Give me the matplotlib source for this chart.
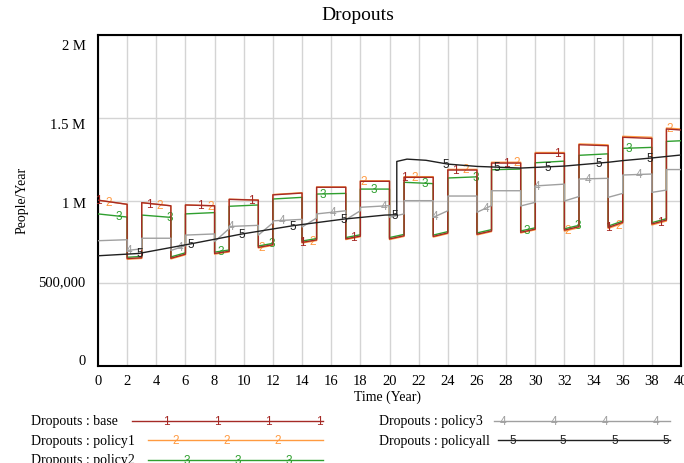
import numpy as np
import matplotlib.pyplot as plt
from matplotlib.lines import Line2D
from matplotlib.transforms import ScaledTranslation

plt.rcParams['font.family'] = ['Liberation Serif', 'DejaVu Serif']

W, H = 684, 464

# square-wave runs: two "high" years then one "low" year, values in thousands
# each entry is (value at start of phase, value at end of phase)
base_high = [(1002, 977), (987, 968), (973, 968), (1007, 1002), (1034, 1045),
             (1080, 1080), (1116, 1116), (1140, 1140), (1184, 1184), (1226, 1226),
             (1285, 1285), (1337, 1331), (1382, 1375), (1432, 1426)]
base_low = [(649, 654), (651, 676), (680, 693), (717, 733), (747, 762),
            (768, 785), (768, 787), (783, 804), (796, 816), (808, 827),
            (821, 842), (837, 868), (858, 882)]

policy1_high = [(1002, 977), (987, 968), (973, 968), (1008, 1003), (1036, 1047),
                (1082, 1082), (1119, 1119), (1144, 1144), (1188, 1188), (1231, 1231),
                (1290, 1290), (1342, 1336), (1388, 1382), (1438, 1432)]
policy1_low = [(645, 650), (647, 672), (676, 689), (713, 729), (743, 758),
               (764, 781), (764, 783), (779, 800), (792, 812), (804, 823),
               (815, 836), (831, 862), (852, 876)]

policy2_high = [(919, 900), (912, 898), (919, 927), (965, 973), (1009, 1019),
                (1039, 1043), (1069, 1069), (1110, 1102), (1136, 1143), (1186, 1190),
                (1228, 1238), (1273, 1282), (1315, 1321), (1357, 1361)]
policy2_low = [(657, 662), (659, 684), (688, 701), (725, 741), (755, 770),
               (776, 793), (776, 795), (791, 812), (804, 824), (816, 835),
               (829, 850), (845, 876), (866, 890)]

policy3_high = [(757, 763), (772, 772), (791, 798), (843, 850), (877, 886),
                (919, 938), (959, 969), (999, 999), (1027, 1027), (1059, 1059),
                (1088, 1099), (1130, 1134), (1154, 1160), (1187, 1187)]
policy3_low = [(698, 708), (698, 727), (752, 830), (791, 865), (840, 894),
               (884, 938), (899, 919), (898, 938), (929, 969), (967, 989),
               (997, 1024), (1019, 1043), (1049, 1063)]

policyall_t = [0, 2.8, 6.3, 9.9, 13.4, 16.9, 19.7, 20.5, 20.5, 21.2, 22.5,
               24, 26, 29, 32, 35, 36, 38, 40]
policyall_v = [666, 680, 737, 798, 848, 888, 912, 914, 1236, 1250, 1243,
               1220, 1206, 1196, 1208, 1231, 1241, 1257, 1275]


def square_trace(high, low):
    t, v = [], []
    for k, (h0, h1) in enumerate(high):
        s = 3 * k
        t += [s, min(s + 2, 40)]
        v += [h0, h1]
        if k < len(low):
            t += [s + 2, s + 3]
            v += list(low[k])
    return np.array(t, float), np.array(v, float) * 1000


series = [
    ("base", "1", "#a52a26", square_trace(base_high, base_low), 0.0, 4),
    ("policy1", "2", "#ff9a40", square_trace(policy1_high, policy1_low), 0.7, 2),
    ("policy2", "3", "#2f9f2f", square_trace(policy2_high, policy2_low), 1.4, 3),
    ("policy3", "4", "#a0a0a0", square_trace(policy3_high, policy3_low), 2.1, 5),
    ("policyall", "5", "#202020",
     (np.array(policyall_t, float), np.array(policyall_v, float) * 1000), 2.8, 6),
]

fig = plt.figure(figsize=(W / 100, H / 100), dpi=100)
ax = fig.add_axes([98 / W, 1 - 367 / H, 583 / W, 331 / H])

for name, mark, color, (t, v), t0, z in series:
    ax.plot(t, v, color=color, lw=1.0, zorder=z)
    tm = np.arange(t0, 39.8, 3.5) + 0.05
    for x in tm:
        ax.text(x, np.interp(x, t, v), mark, color=color, fontsize=8.5,
                family='Liberation Sans', ha='center', va='center', zorder=z)

ax.set_xlim(0, 40)
ax.set_ylim(0, 2e6)
ax.set_xticks(range(0, 41, 2))
ax.set_yticks([0, 5e5, 1e6, 1.5e6, 2e6])
ax.set_yticklabels(['0', '500,000', '1 M', '1.5 M', '2 M'])
ax.tick_params(length=0, labelsize=10.5)
ax.tick_params(axis='x', pad=6)
ax.tick_params(axis='y', pad=9)
ax.grid(color='#d4d4d4', lw=1)
ax.set_axisbelow(True)
for sp in ax.spines.values():
    sp.set_linewidth(1.5)
    sp.set_color('black')

# vensim spaces the value labels a little tighter than the grid lines
for lab, dy in zip(ax.get_yticklabels(), [-7, -3, 1, 5, 9]):
    lab.set_transform(lab.get_transform() + ScaledTranslation(0, -dy / 100, fig.dpi_scale_trans))


def px(x, y):
    return x / W, 1 - y / H


fig.text(*px(358, 16), "Dropouts", fontsize=14, ha='center', va='center')
fig.text(*px(388, 397), "Time (Year)", fontsize=10, ha='center', va='center')
fig.text(*px(22, 200), "People/Year", fontsize=10, ha='center', va='center', rotation=90)

legend_rows = [
    (0, 31, 422, 132, 323, [166, 217, 268, 319]),
    (1, 31, 441, 148, 323, [176, 227, 278]),
    (2, 31, 461, 148, 323, [187, 238, 289]),
    (3, 379, 422, 494, 670, [503, 554, 605, 656]),
    (4, 379, 441, 498, 670, [513, 563, 615, 666]),
]
for idx, tx, ty, x0, x1, marks in legend_rows:
    name, mark, color = series[idx][:3]
    fig.text(*px(tx, ty), f"Dropouts : {name}", fontsize=10, ha='left', va='center')
    fig.add_artist(Line2D([x0 / W, x1 / W], [1 - ty / H] * 2, color=color, lw=1.0))
    for mx in marks:
        fig.text(*px(mx, ty), mark, color=color, fontsize=8.5, family='Liberation Sans',
                 ha='center', va='center')

fig.savefig("out.png", dpi=100)
